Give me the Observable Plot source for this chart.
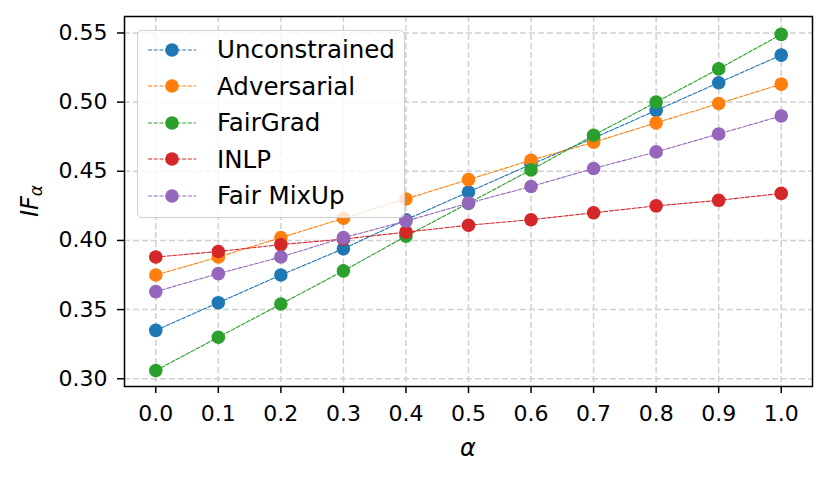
<!DOCTYPE html>
<html>
<head>
<meta charset="utf-8">
<script src="https://cdn.jsdelivr.net/npm/d3@7"></script>
<script src="https://cdn.jsdelivr.net/npm/@observablehq/plot@0.6"></script>
<style>
  body { margin: 0; background: #fff; font-family: "DejaVu Sans", sans-serif; }
  #wrap { position: relative; width: 830px; height: 479px; }
  #legend { position: absolute; left: 137px; top: 30px; width: 266px; height: 186px;
    border: 1.5px solid #d0d0d0; border-radius: 5px; background: rgba(255,255,255,0.8); }
  .row { position: absolute; left: 0; height: 30px; display: flex; align-items: center; }
  .row span { font-size: 24.5px; color: #000; margin-left: 20px; white-space: nowrap; }
</style>
</head>
<body>
<div id="wrap"></div>
<script>
const alphas = [0.0, 0.1, 0.2, 0.3, 0.4, 0.5, 0.6, 0.7, 0.8, 0.9, 1.0];
const seriesNames = ["Unconstrained", "Adversarial", "FairGrad", "INLP", "Fair MixUp"];
const seriesColors = ["#1f77b4", "#ff7f0e", "#2ca02c", "#d62728", "#9467bd"];
const unconstrained = [0.335, 0.355, 0.375, 0.394, 0.415, 0.435, 0.455, 0.474, 0.494, 0.514, 0.534];
const adversarial   = [0.375, 0.388, 0.402, 0.416, 0.430, 0.444, 0.458, 0.471, 0.485, 0.499, 0.513];
const fairGrad      = [0.306, 0.330, 0.354, 0.378, 0.403, 0.427, 0.451, 0.476, 0.500, 0.524, 0.549];
const inlp          = [0.388, 0.392, 0.397, 0.401, 0.406, 0.411, 0.415, 0.420, 0.425, 0.429, 0.434];
const fairMixUp     = [0.363, 0.376, 0.388, 0.402, 0.414, 0.427, 0.439, 0.452, 0.464, 0.477, 0.490];
const xTicks = [0.0, 0.1, 0.2, 0.3, 0.4, 0.5, 0.6, 0.7, 0.8, 0.9, 1.0];
const yTicks = [0.30, 0.35, 0.40, 0.45, 0.50, 0.55];

const allSeries = [unconstrained, adversarial, fairGrad, inlp, fairMixUp];
const tables = allSeries.map((vals, i) => vals.map((v, j) => ({alpha: alphas[j], value: v, series: seriesNames[i]})));

const marks = [
  Plot.gridX(xTicks, {stroke: "#d0d0d0", strokeOpacity: 1, strokeWidth: 1.5, strokeDasharray: "6,3"}),
  Plot.gridY(yTicks, {stroke: "#d0d0d0", strokeOpacity: 1, strokeWidth: 1.5, strokeDasharray: "6,3"})
];
tables.forEach((t, i) => {
  marks.push(Plot.line(t, {x: "alpha", y: "value", stroke: seriesColors[i], strokeWidth: 1.1, strokeDasharray: "4,1.7"}));
  marks.push(Plot.dot(t, {x: "alpha", y: "value", fill: seriesColors[i], r: 6.8, stroke: "none"}));
});
marks.push(Plot.frame({stroke: "#000", strokeWidth: 1.5}));
marks.push(Plot.axisX(xTicks, {tickFormat: d3.format(".1f"), tickSize: 7, tickPadding: 12, fontSize: 22, label: null, strokeWidth: 1.5}));
marks.push(Plot.axisY(yTicks, {tickFormat: d3.format(".2f"), tickSize: 7, tickPadding: 10, fontSize: 22, label: null, strokeWidth: 1.5}));

const plot = Plot.plot({
  width: 830, height: 479,
  marginLeft: 124, marginRight: 18, marginTop: 16, marginBottom: 93,
  style: {fontFamily: "DejaVu Sans", fontSize: "22px", background: "#fff", color: "#000"},
  x: {domain: [-0.05, 1.05]},
  y: {domain: [0.2944, 0.5619]},
  marks
});
const wrap = document.getElementById("wrap");
wrap.appendChild(plot);

const svg = d3.select(plot);
// x label
svg.append("text").attr("x", 468).attr("y", 456).attr("text-anchor", "middle")
  .attr("font-size", 24).attr("font-style", "italic").attr("font-family", "DejaVu Sans").text("α");
// y label
const yl = svg.append("text").attr("transform", "translate(38,201) rotate(-90)").attr("text-anchor", "middle")
  .attr("font-size", 24).attr("font-style", "italic").attr("font-family", "DejaVu Sans");
yl.append("tspan").text("IF");
yl.append("tspan").attr("font-size", 17).attr("dy", 4).text("α");

// legend
const legend = document.createElement("div");
legend.id = "legend";
const rowY = [18.5, 55, 91.5, 128, 164.5];
seriesNames.forEach((name, i) => {
  const row = document.createElement("div");
  row.className = "row";
  row.style.top = (rowY[i] - 15) + "px";
  row.style.left = "9px";
  row.innerHTML = `<svg width="50" height="30"><line x1="1" x2="49" y1="15" y2="15" stroke="${seriesColors[i]}" stroke-width="1" stroke-dasharray="4,1.7"/><circle cx="25" cy="15" r="6.8" fill="${seriesColors[i]}"/></svg><span>${name}</span>`;
  legend.appendChild(row);
});
wrap.appendChild(legend);
</script>
</body>
</html>
